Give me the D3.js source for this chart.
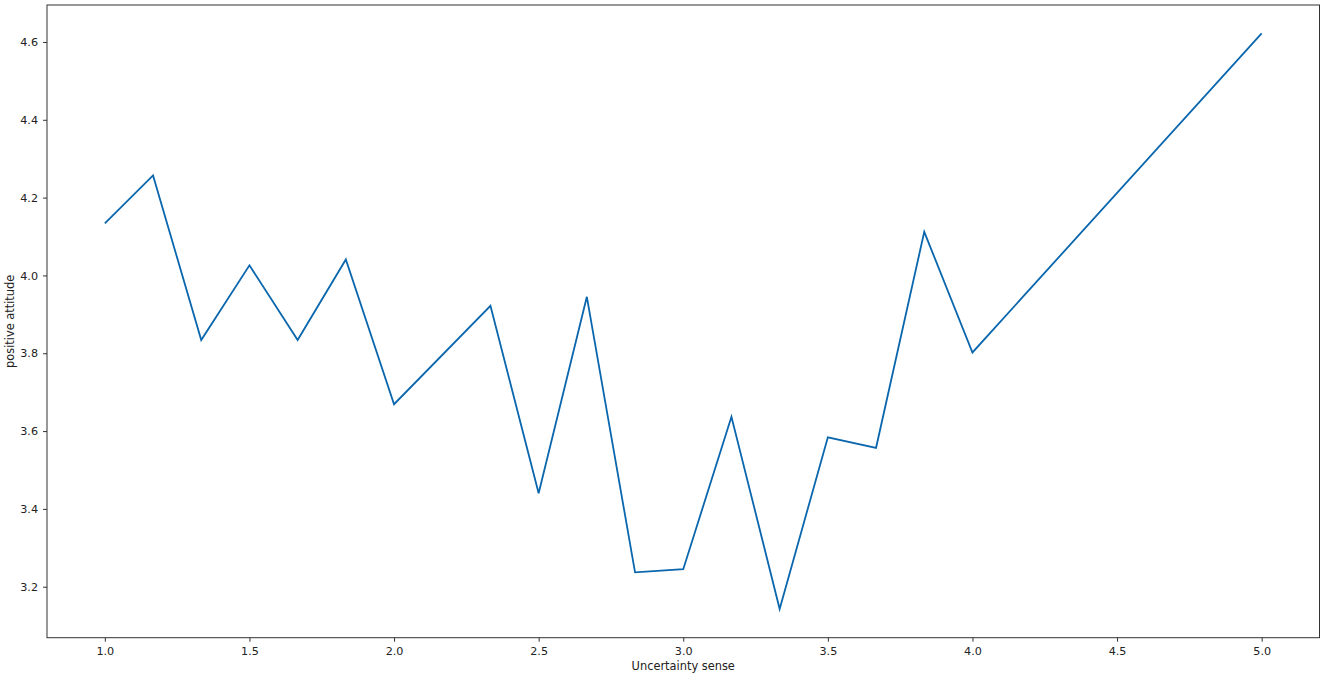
<!DOCTYPE html>
<html><head><meta charset="utf-8">
<script src="https://cdn.jsdelivr.net/npm/d3@7"></script>
<style>body{margin:0;background:#fff;} text{font-family:"DejaVu Sans",sans-serif;}</style>
</head><body><svg id="c" width="1325" height="677"></svg>
<script>
const xValues = [1.0, 7/6, 4/3, 1.5, 5/3, 11/6, 2.0, 7/3, 2.5, 8/3, 17/6, 3.0, 19/6, 10/3, 3.5, 11/3, 23/6, 4.0, 5.0];
const yValues = [4.134, 4.257, 3.834, 4.026, 3.834, 4.041, 3.669, 3.922, 3.440, 3.945, 3.237, 3.245, 3.637, 3.143, 3.584, 3.557, 4.112, 3.802, 4.622];
const xTicks = [1.0, 1.5, 2.0, 2.5, 3.0, 3.5, 4.0, 4.5, 5.0];
const yTicks = [3.2, 3.4, 3.6, 3.8, 4.0, 4.2, 4.4, 4.6];
const xLabel = "Uncertainty sense";
const yLabel = "positive attitude";

const svg = d3.select("#c");
const L = 47, R = 1319.5, T = 5, B = 637.7;
const x = d3.scaleLinear().domain([0.8, 5.2]).range([L, R]);
const y = d3.scaleLinear().domain([3.069, 4.695]).range([B, T]);

const xa = svg.append("g").attr("transform", `translate(0,${B})`)
  .call(d3.axisBottom(x).tickValues(xTicks).tickFormat(d3.format(".1f")).tickSize(4).tickPadding(5));
const ya = svg.append("g").attr("transform", `translate(${L},0)`)
  .call(d3.axisLeft(y).tickValues(yTicks).tickFormat(d3.format(".1f")).tickSize(4).tickPadding(5));
[xa, ya].forEach(a => {
  a.select(".domain").remove();
  a.selectAll("text").attr("font-size", 11.2).attr("fill", "#222").attr("font-family", "DejaVu Sans");
  a.selectAll("line").attr("stroke", "#333");
});

svg.append("path").datum(xValues.map((v, i) => [v, yValues[i]]))
  .attr("fill", "none").attr("stroke", "#0a66ad").attr("stroke-width", 1.8)
  .attr("stroke-linejoin", "miter")
  .attr("d", d3.line().x(d => x(d[0])).y(d => y(d[1])));

svg.append("rect").attr("x", L).attr("y", T).attr("width", R - L).attr("height", B - T)
  .attr("fill", "none").attr("stroke", "#333").attr("stroke-width", 1);

svg.append("text").attr("x", (L + R) / 2).attr("y", 670).attr("text-anchor", "middle")
  .attr("font-size", 11.4).attr("fill", "#222").text(xLabel);
svg.append("text").attr("transform", `translate(14,${(T + B) / 2}) rotate(-90)`).attr("text-anchor", "middle")
  .attr("font-size", 11.4).attr("fill", "#222").text(yLabel);
</script></body></html>
